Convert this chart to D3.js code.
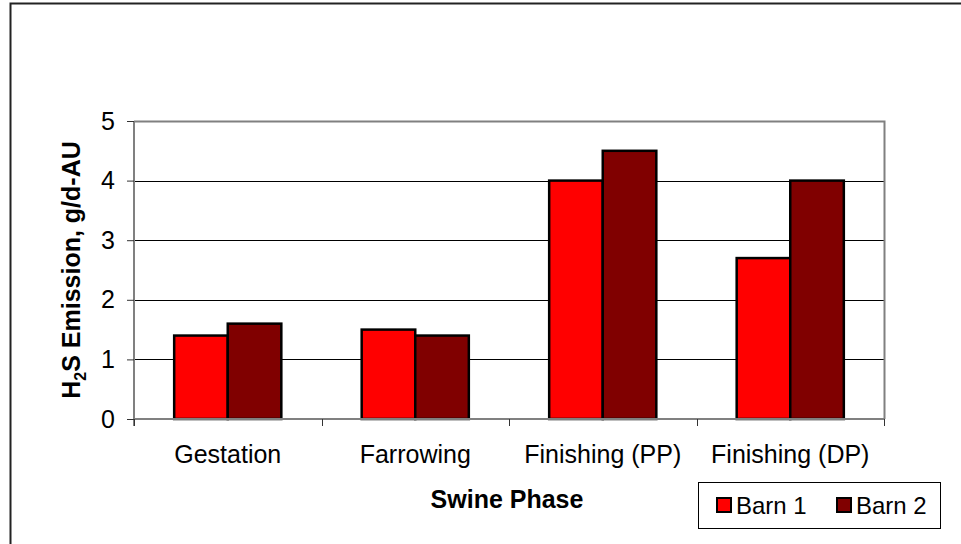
<!DOCTYPE html>
<html><head><meta charset="utf-8">
<script src="https://cdn.jsdelivr.net/npm/d3@7"></script>
<style>
html,body{margin:0;padding:0;background:#fff;}
svg{display:block;font-family:"Liberation Sans",Arial,sans-serif;}
</style></head>
<body>
<svg id="chart" width="961" height="544"></svg>
<script>
const categories = ["Gestation", "Farrowing", "Finishing (PP)", "Finishing (DP)"];
const seriesNames = ["Barn 1", "Barn 2"];
const barn1 = [1.4, 1.5, 4.0, 2.7];
const barn2 = [1.6, 1.4, 4.5, 4.0];
const yTicks = [0, 1, 2, 3, 4, 5];
const colors = ["#FF0000", "#800000"];

const svg = d3.select("#chart");
const W = 961, H = 544;
const m = {left: 134, right: 884, top: 121, bottom: 419};
const FS = 25;

// outer chart border
svg.append("rect").attr("x", 10.5).attr("y", 3.5).attr("width", W + 20).attr("height", H + 20)
  .attr("fill", "none").attr("stroke", "#222").attr("stroke-width", 2);

const x0 = d3.scaleBand().domain(categories).range([m.left, m.right]).paddingInner(0).paddingOuter(0);
const y = d3.scaleLinear().domain([0, 5]).range([m.bottom, m.top]);
const bw = x0.bandwidth();
const barW = bw / (2 + 1.5);
const x1 = d3.scaleBand().domain(seriesNames).range([0.75 * barW, 0.75 * barW + 2 * barW]).padding(0);

// gridlines
svg.append("g").selectAll("line").data(yTicks.filter(t => t > 0 && t < 5)).join("line")
  .attr("x1", m.left).attr("x2", m.right)
  .attr("y1", d => Math.round(y(d)) + 0.5).attr("y2", d => Math.round(y(d)) + 0.5)
  .attr("stroke", "#000").attr("stroke-width", 1);

// plot border top/right
svg.append("path")
  .attr("d", `M${m.left},${m.top + 0.5}H${m.right + 0.5}V${m.bottom}`)
  .attr("fill", "none").attr("stroke", "#808080").attr("stroke-width", 2);

// bars
const data = categories.map((c, i) => ({c, vals: [barn1[i], barn2[i]]}));
const g = svg.append("g");
data.forEach(d => {
  d.vals.forEach((v, j) => {
    g.append("rect")
      .attr("x", x0(d.c) + x1(seriesNames[j]))
      .attr("y", y(v))
      .attr("width", x1.bandwidth())
      .attr("height", y(0) - y(v))
      .attr("fill", colors[j]).attr("stroke", "#000").attr("stroke-width", 2.5);
  });
});

// y axis
const yAxis = d3.axisLeft(y).tickValues(yTicks).tickSize(7).tickPadding(12).tickFormat(d3.format("d"));
const ya = svg.append("g").attr("transform", `translate(${m.left},0)`).call(yAxis);
ya.select(".domain").attr("stroke", "#808080").attr("stroke-width", 2).attr("d", `M0,${m.top}V${m.bottom + 7}`);
ya.selectAll(".tick line").attr("stroke", "#333");
ya.selectAll("text").attr("font-size", FS).attr("fill", "#000").attr("font-family", "Liberation Sans, Arial, sans-serif");

// x axis
const xa = svg.append("g").attr("transform", `translate(0,${m.bottom})`)
  .call(d3.axisBottom(x0).tickSize(0).tickPadding(26));
xa.select(".domain").attr("stroke", "#808080").attr("stroke-width", 2).attr("d", `M${m.left},0H${m.right}`);
xa.selectAll("text").attr("font-size", FS).attr("fill", "#000").attr("font-family", "Liberation Sans, Arial, sans-serif");
// category boundary ticks
const bounds = categories.map(c => x0(c)).concat([m.right]);
xa.append("g").selectAll("line").data(bounds).join("line")
  .attr("x1", d => Math.round(d) + 0.5).attr("x2", d => Math.round(d) + 0.5)
  .attr("y1", 0).attr("y2", 7).attr("stroke", "#333");

// axis titles
svg.append("text").attr("x", 507).attr("y", 508)
  .attr("text-anchor", "middle").attr("font-size", FS).attr("font-weight", "bold")
  .text("Swine Phase");
const yt = svg.append("text").attr("transform", `translate(80,${(m.top + m.bottom) / 2}) rotate(-90)`)
  .attr("text-anchor", "middle").attr("font-size", FS).attr("font-weight", "bold");
yt.append("tspan").text("H");
yt.append("tspan").attr("font-size", 16).attr("dy", 6).text("2");
yt.append("tspan").attr("dy", -6).text("S Emission, g/d-AU");

// legend
const lg = svg.append("g");
lg.append("rect").attr("x", 698.5).attr("y", 482.5).attr("width", 242).attr("height", 46)
  .attr("fill", "#fff").attr("stroke", "#000").attr("stroke-width", 1);
const legX = [717, 837];
seriesNames.forEach((s, i) => {
  lg.append("rect").attr("x", legX[i]).attr("y", 498).attr("width", 14).attr("height", 14)
    .attr("fill", colors[i]).attr("stroke", "#000").attr("stroke-width", 2);
  lg.append("text").attr("x", legX[i] + 19).attr("y", 513.5).attr("font-size", 24).text(s);
});
</script>
</body></html>
